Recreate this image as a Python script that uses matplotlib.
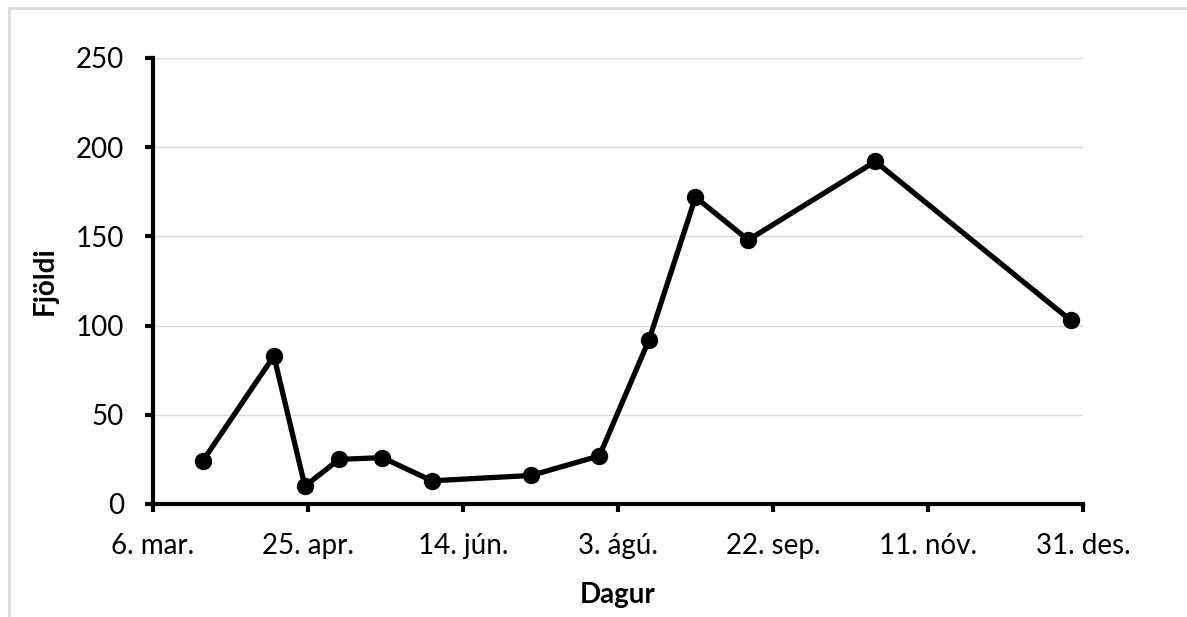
import datetime as dt
import matplotlib
matplotlib.use("Agg")
import matplotlib.pyplot as plt
import matplotlib.dates as mdates
from matplotlib.patches import Rectangle

plt.rcParams["font.family"] = ["Lato", "DejaVu Sans"]

# Gögn lesin af myndinni
dagsetningar = [
    "2023-03-22", "2023-04-14", "2023-04-24", "2023-05-05", "2023-05-19",
    "2023-06-04", "2023-07-06", "2023-07-28", "2023-08-13", "2023-08-28",
    "2023-09-14", "2023-10-25", "2023-12-27",
]
fjoldi = [24, 83, 10, 25, 26, 13, 16, 27, 92, 172, 148, 192, 103]

manudir = ["jan", "feb", "mar", "apr", "maí", "jún", "júl", "ágú", "sep", "okt", "nóv", "des"]
y_ticks = [0, 50, 100, 150, 200, 250]
fyrsti_dagur = dt.date(2023, 3, 6)
x_ticks = [fyrsti_dagur + dt.timedelta(days=50 * i) for i in range(7)]

dagar = [dt.datetime.strptime(d, "%Y-%m-%d").date() for d in dagsetningar]


def format_dags(x, pos):
    d = mdates.num2date(x)
    return f"{d.day}. {manudir[d.month - 1]}."


fig = plt.figure(figsize=(11.87, 6.17), dpi=100)
ax = fig.add_axes([153 / 1187, 1 - 504 / 617, (1083 - 153) / 1187, (504 - 58) / 617])

# rammi utan um myndina
fig.patches.append(Rectangle((9 / 1187, -0.1), 1.2, 1 - 8 / 617 + 0.1,
                             transform=fig.transFigure, fill=False,
                             edgecolor="#d9d9d9", linewidth=2))

ax.plot(dagar, fjoldi, color="black", linewidth=3.8, marker="o", markersize=11.5,
        solid_joinstyle="round", zorder=3)

ax.set_xlim(x_ticks[0], x_ticks[-1])
ax.set_ylim(0, 250)
ax.set_xticks(x_ticks)
ax.set_yticks(y_ticks)
ax.xaxis.set_major_formatter(plt.FuncFormatter(format_dags))

ax.grid(axis="y", color="#d9d9d9", linewidth=1)
ax.set_axisbelow(True)
for s in ["top", "right"]:
    ax.spines[s].set_visible(False)
for s in ["left", "bottom"]:
    ax.spines[s].set_linewidth(3)
ax.tick_params(axis="both", direction="out", length=6, width=3, labelsize=20)
ax.tick_params(axis="y", pad=15)
ax.tick_params(axis="x", pad=15)

ax.set_xlabel("Dagur", fontsize=20, fontweight="bold", va="center")
ax.set_ylabel("Fjöldi", fontsize=20, fontweight="bold", va="center")
ax.xaxis.set_label_coords(0.5, (504 - 595) / 446)
ax.yaxis.set_label_coords((45 - 153) / 930, 0.5)

fig.savefig("out.png", dpi=100)
